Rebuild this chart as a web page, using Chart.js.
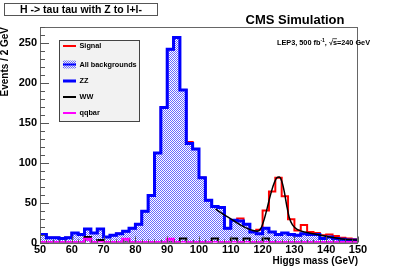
<!DOCTYPE html>
<html>
<head>
<meta charset="utf-8">
<script src="https://cdn.jsdelivr.net/npm/chart.js@4.4.1/dist/chart.umd.min.js"></script>
<style>
  html, body { margin: 0; padding: 0; background: #fff; }
  #wrap { width: 399px; height: 270px; }
</style>
</head>
<body>
<div id="wrap"><canvas id="c"></canvas></div>
<script>
// histogram: 50 bins of 2 GeV, 50 -> 150 GeV
const binStart = 50;
const binWidth = 2;

const allBackgrounds = [10, 6, 6, 5, 6, 12, 10, 17, 12, 17,
                        7, 9, 11, 14, 18, 23, 39, 59, 112, 169,
                        242, 257, 191, 124, 117, 81, 53, 45, 44, 18,
                        28, 27, 23, 13, 11, 18, 13, 10, 12, 10,
                        9, 11, 10, 10, 5, 7, 5, 4, 3, 3];

const zzEvents = [10, 6, 6, 5, 6, 12, 10, 17, 12, 17,
                  7, 9, 11, 14, 18, 23, 39, 59, 112, 169,
                  242, 257, 191, 124, 117, 81, 53, 45, 44, 18,
                  28, 27, 23, 13, 11, 18, 13, 10, 12, 10,
                  9, 11, 10, 10, 5, 7, 5, 4, 3, 3];

// signal stacked on the backgrounds (red)
const signalEvents = [10, 6, 6, 5, 6, 12, 10, 17, 12, 17,
                      7, 9, 11, 14, 18, 23, 39, 59, 112, 169,
                      242, 257, 191, 126, 117, 81, 53, 45, 44, 18,
                      28, 30, 23, 13, 16, 40, 64, 81, 58, 29,
                      15, 22, 13, 12, 9, 10, 8, 6, 5, 4];

const wwEvents = [0, 0, 0, 0, 0, 0, 0, 7, 0, 3,
                  0, 0, 0, 0, 0, 0, 0, 0, 0, 0,
                  0, 0, 5, 0, 0, 0, 0, 5, 0, 0,
                  5, 0, 5, 0, 0, 5, 0, 0, 0, 0,
                  0, 0, 0, 0, 0, 0, 0, 0, 0, 0];

const qqbarEvents = [0, 0, 0, 0, 0, 0, 0, 4, 0, 0,
                     0, 0, 0, 4, 0, 0, 0, 0, 0, 0,
                     4, 0, 0, 0, 0, 0, 0, 0, 0, 0,
                     0, 0, 0, 0, 0, 0, 0, 0, 0, 0,
                     0, 0, 0, 0, 0, 0, 0, 0, 0, 0];

// fit curve
const fitMass = [105.2, 107, 109, 111, 113, 115, 117, 118.3, 119.5, 120.5, 121.5, 122.5,
                 123.5, 124.5, 125.2, 126, 126.8, 127.6, 128.4, 129.4, 131, 134, 137, 141, 145, 150];
const fitValue = [42, 37, 32, 27, 22, 18, 15, 14, 18, 29, 44, 60,
                  73, 81, 82, 77, 64, 46, 31, 22, 16, 12.5, 10, 7, 4.5, 3];

const xTickValues = [50, 60, 70, 80, 90, 100, 110, 120, 130, 140, 150];
const yTickValues = [0, 50, 100, 150, 200, 250];

const FONT = "'Liberation Sans', Arial, sans-serif";

function histPoints(values) {
    const pts = values.map((v, i) => ({ x: binStart + i * binWidth, y: v }));
    pts.push({ x: binStart + values.length * binWidth, y: values[values.length - 1] });
    return pts;
}

function makeHatch() {
    const c = document.createElement('canvas');
    c.width = 2; c.height = 2;
    const g = c.getContext('2d');
    g.fillStyle = 'rgb(105,105,255)';
    g.fillRect(0, 0, 1, 1);
    g.fillRect(1, 1, 1, 1);
    return g.createPattern(c, 'repeat');
}
const hatch = makeHatch();

const decorations = {
    id: 'decorations',
    afterDraw(chart) {
        const ctx = chart.ctx;
        const a = chart.chartArea;
        const xs = chart.scales.x, ys = chart.scales.y;
        ctx.save();

        // frame
        ctx.strokeStyle = '#666';
        ctx.lineWidth = 1;
        ctx.strokeRect(Math.round(a.left) + 0.5, Math.round(a.top) + 0.5,
            Math.round(a.right - a.left) - 1, Math.round(a.bottom - a.top));

        // inward ticks
        ctx.strokeStyle = '#555';
        ctx.beginPath();
        for (let v = 0; v <= 270; v += 10) {
            const py = Math.round(ys.getPixelForValue(v)) + 0.5;
            const len = v % 50 === 0 ? 9 : 5;
            ctx.moveTo(a.left, py); ctx.lineTo(a.left + len, py);
        }
        for (let v = 50; v <= 150; v += 2) {
            const px = Math.round(xs.getPixelForValue(v)) + 0.5;
            const len = v % 10 === 0 ? 6 : 3;
            ctx.moveTo(px, a.bottom); ctx.lineTo(px, a.bottom - len);
        }
        ctx.stroke();

        // title box
        ctx.fillStyle = '#fff';
        ctx.fillRect(4, 3, 153, 12);
        ctx.strokeStyle = '#555';
        ctx.strokeRect(4.5, 3.5, 153, 12);
        ctx.fillStyle = '#000';
        ctx.font = 'bold 10.5px ' + FONT;
        ctx.textAlign = 'center';
        ctx.textBaseline = 'middle';
        ctx.fillText('H -> tau tau with Z to l+l-', 81, 10);

        // CMS label
        ctx.font = 'bold 13px ' + FONT;
        ctx.fillText('CMS Simulation', 295, 20.5);

        // luminosity / energy
        ctx.textAlign = 'left';
        ctx.textBaseline = 'alphabetic';
        let x = 277;
        const by = 45;
        ctx.font = 'bold 7.3px ' + FONT;
        ctx.fillText('LEP3, 500 fb', x, by);
        x += ctx.measureText('LEP3, 500 fb').width;
        ctx.font = 'bold 5px ' + FONT;
        ctx.fillText('-1', x, by - 3);
        x += ctx.measureText('-1').width;
        ctx.font = 'bold 7.3px ' + FONT;
        ctx.fillText(', \u221A', x, by);
        x += ctx.measureText(', \u221A').width;
        const sw = ctx.measureText('s').width;
        ctx.beginPath();
        ctx.lineWidth = 0.7;
        ctx.strokeStyle = '#000';
        ctx.moveTo(x - 0.5, by - 6.3); ctx.lineTo(x + sw, by - 6.3);
        ctx.stroke();
        ctx.fillText('s=240 GeV', x, by);

        // legend
        const lx = 59, ly = 40, lw = 80, lh = 81;
        ctx.fillStyle = '#f2f2f2';
        ctx.fillRect(lx, ly, lw, lh);
        ctx.strokeStyle = '#444';
        ctx.lineWidth = 1;
        ctx.strokeRect(lx + 0.5, ly + 0.5, lw, lh);
        const entries = [
            { label: 'Signal', color: '#ff0000', width: 2, y: 46 },
            { label: 'All backgrounds', color: '#0000ff', width: 2, y: 64.5, box: true },
            { label: 'ZZ', color: '#0000ff', width: 3, y: 81 },
            { label: 'WW', color: '#000000', width: 2, y: 97 },
            { label: 'qqbar', color: '#ff00ff', width: 2, y: 113 }
        ];
        entries.forEach(e => {
            if (e.box) {
                ctx.fillStyle = hatch;
                ctx.fillRect(63, e.y - 4, 13, 8);
            }
            ctx.strokeStyle = e.color;
            ctx.lineWidth = e.width;
            ctx.beginPath();
            ctx.moveTo(63, e.y); ctx.lineTo(76, e.y);
            ctx.stroke();
            ctx.fillStyle = '#000';
            ctx.font = 'bold 7.3px ' + FONT;
            ctx.textBaseline = 'middle';
            ctx.fillText(e.label, 79.5, e.y);
        });

        ctx.restore();
    }
};

new Chart(document.getElementById('c'), {
    type: 'line',
    data: {
        datasets: [
            {
                label: 'Signal',
                data: histPoints(signalEvents),
                borderColor: '#ff0000',
                borderWidth: 2,
                stepped: true,
                pointRadius: 0,
                order: 5
            },
            {
                label: 'All backgrounds',
                data: histPoints(allBackgrounds),
                borderColor: '#0000ff',
                borderWidth: 2,
                backgroundColor: hatch,
                fill: 'origin',
                stepped: true,
                pointRadius: 0,
                order: 4
            },
            {
                label: 'ZZ',
                data: histPoints(zzEvents),
                borderColor: '#0000ff',
                borderWidth: 3,
                stepped: true,
                pointRadius: 0,
                order: 3
            },
            {
                label: 'WW',
                data: histPoints(wwEvents),
                borderColor: '#000000',
                borderWidth: 2,
                stepped: true,
                pointRadius: 0,
                order: 2
            },
            {
                label: 'qqbar',
                data: histPoints(qqbarEvents),
                borderColor: '#ff00ff',
                borderWidth: 3,
                stepped: true,
                pointRadius: 0,
                order: 1
            },
            {
                label: 'fit',
                data: fitMass.map((m, i) => ({ x: m, y: fitValue[i] })),
                borderColor: '#000000',
                borderWidth: 1.5,
                cubicInterpolationMode: 'monotone',
                pointRadius: 0,
                order: 0
            }
        ]
    },
    options: {
        responsive: true,
        maintainAspectRatio: false,
        animation: false,
        devicePixelRatio: 1,
        layout: { padding: { left: 0, right: 41, top: 27, bottom: 0 } },
        plugins: {
            legend: { display: false },
            tooltip: { enabled: false }
        },
        scales: {
            x: {
                type: 'linear',
                min: 50,
                max: 150,
                afterBuildTicks: s => { s.ticks = xTickValues.map(v => ({ value: v })); },
                afterFit: s => { s.height = 27.5; },
                grid: { display: false, drawTicks: false },
                border: { display: false },
                ticks: {
                    color: '#000',
                    padding: 2,
                    maxRotation: 0,
                    autoSkip: false,
                    font: { family: FONT, weight: 'bold', size: 11, lineHeight: 1 }
                },
                title: {
                    display: true,
                    text: 'Higgs mass (GeV)',
                    align: 'end',
                    color: '#000',
                    padding: { top: 0, bottom: 3 },
                    font: { family: FONT, weight: 'bold', size: 10 }
                }
            },
            y: {
                min: 0,
                max: 270,
                afterBuildTicks: s => { s.ticks = yTickValues.map(v => ({ value: v })); },
                afterFit: s => { s.width = 40; },
                grid: { display: false, drawTicks: false },
                border: { display: false },
                ticks: {
                    color: '#000',
                    padding: 3,
                    autoSkip: false,
                    font: { family: FONT, weight: 'bold', size: 11 }
                },
                title: {
                    display: true,
                    text: 'Events / 2 GeV',
                    align: 'end',
                    color: '#000',
                    padding: { top: 0, bottom: 0 },
                    font: { family: FONT, weight: 'bold', size: 10, lineHeight: 1 }
                }
            }
        }
    },
    plugins: [decorations]
});
</script>
</body>
</html>
